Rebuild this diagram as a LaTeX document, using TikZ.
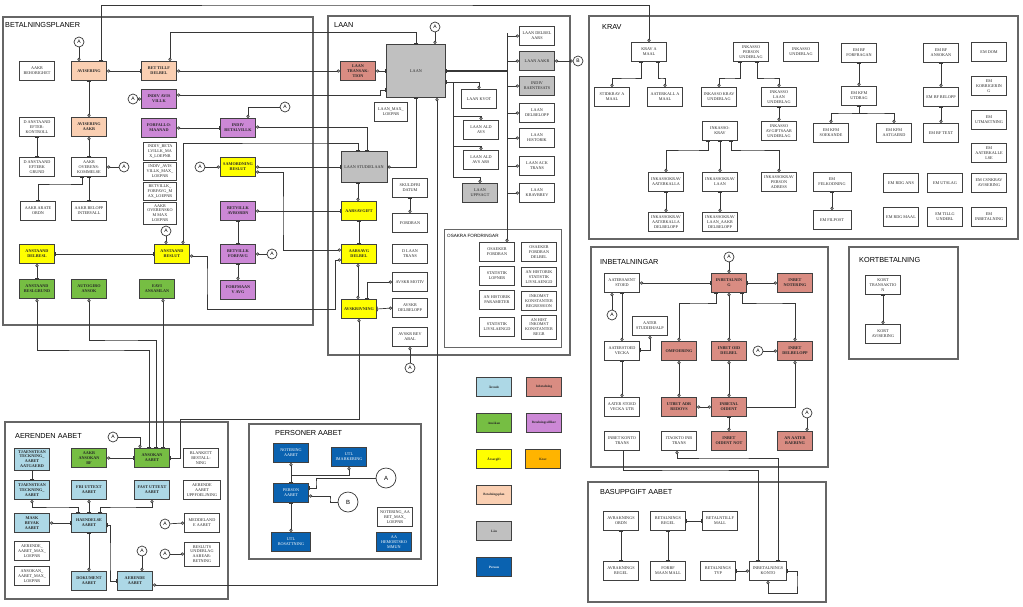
\documentclass[tikz,border=0pt]{standalone}
\usepackage{fontspec}
\setmainfont{Liberation Serif}
\setsansfont{Liberation Sans}
\usetikzlibrary{arrows.meta}
\definecolor{cPlan}{RGB}{250,207,178}
\definecolor{cVillk}{RGB}{204,136,214}
\definecolor{cAvg}{RGB}{255,255,0}
\definecolor{cAns}{RGB}{118,190,67}
\definecolor{cAer}{RGB}{173,216,230}
\definecolor{cInb}{RGB}{217,140,130}
\definecolor{cLaan}{RGB}{192,192,192}
\definecolor{cPers}{RGB}{10,98,176}
\definecolor{cKrav}{RGB}{255,180,0}
\definecolor{cLine}{RGB}{55,55,55}
\newcommand{\efont}{\fontsize{4.2}{4.9}\selectfont}
\tikzset{
  entity/.style={draw=black!75, line width=0.9pt, minimum width=35pt, minimum height=19pt,
    inner sep=0.5pt, align=center, font=\efont, text=black!85},
  planbox/.style={entity, fill=cPlan, font=\efont\bfseries},
  villkbox/.style={entity, fill=cVillk, font=\efont\bfseries},
  avgbox/.style={entity, fill=cAvg, font=\efont\bfseries},
  ansbox/.style={entity, fill=cAns, font=\efont\bfseries},
  aerbox/.style={entity, fill=cAer, font=\efont\bfseries},
  inbbox/.style={entity, fill=cInb, font=\efont\bfseries},
  laanbox/.style={entity, fill=cLaan},
  persbox/.style={entity, fill=cPers, text=white},
  maxbox/.style={entity, minimum width=33pt, minimum height=18pt},
  legend/.style={entity, font=\fontsize{3.3}{4}\selectfont\bfseries},
  frame/.style={draw=black!60, line width=1.1pt},
  frametitle/.style={anchor=west, inner sep=0pt, font=\sffamily\fontsize{7.3}{8}\selectfont},
  subtitle/.style={anchor=west, inner sep=0pt, font=\sffamily\fontsize{4.6}{5}\selectfont},
  rel/.style={draw=cLine, line width=0.7pt},
  refcirc/.style={draw=cLine, circle, line width=0.7pt, fill=white, minimum size=10pt,
    inner sep=0pt, font=\sffamily\fontsize{5}{5}\selectfont},
  bigref/.style={refcirc, minimum size=20pt, font=\sffamily\fontsize{6}{6}\selectfont},
  co/.tip={Circle[open, length=3.2pt, width=3.2pt]},
  br/.tip={Bar[width=4.5pt]}
}
% entity box: [style]{name}{x}{y}{text}
\newcommand{\ent}[5][entity]{\node[#1] (#2) at (#3,#4) {#5};}
% reference circle: {name}{x}{y}{letter}
\newcommand{\aref}[4]{\node[refcirc] (#1) at (#2,#3) {#4};}

\begin{document}
\begin{tikzpicture}[x=1pt, y=-1pt]
  \useasboundingbox (0,0) rectangle (1023,606);

  % frames
  \draw[frame] (3,17) rectangle (313,325);
  \node[frametitle] (tPlan) at (5,25) {BETALNINGSPLANER};
  \draw[frame] (328,16) rectangle (570,355);
  \node[frametitle] (tLaan) at (334,25) {LAAN};
  \draw[frame, line width=0.9pt] (444,229) rectangle (561,347);
  \node[subtitle] (tOsak) at (447,236) {OSAKRA FORDRINGAR};
  \draw[frame] (589,16) rectangle (1018,239);
  \node[frametitle] (tKrav) at (602,27) {KRAV};
  \draw[frame] (849,247) rectangle (958,359);
  \node[frametitle] (tKort) at (859,260) {KORTBETALNING};
  \draw[frame] (591,247) rectangle (828,467);
  \node[frametitle] (tInb) at (600,262) {INBETALNINGAR};
  \draw[frame] (588,482) rectangle (826,602);
  \node[frametitle] (tBas) at (600,492) {BASUPPGIFT AABET};
  \draw[frame] (5,422) rectangle (228,599);
  \node[frametitle] (tAer) at (15,436) {AERENDEN AABET};
  \draw[frame] (249,424) rectangle (421,559);
  \node[frametitle] (tPers) at (275,433) {PERSONER AABET};

  % BETALNINGSPLANER
  \ent{aakrBeh}{37}{71}{AAKR\\BEHORIGHET}
  \ent[planbox]{avis}{89}{71}{AVISERING}
  \ent[planbox]{betTillf}{159}{71}{BET TILLF\\DELBEL}
  \ent[villkbox]{indivAvis}{159}{99}{INDIV AVIS\\VILLK}
  \ent[villkbox]{forfallo}{159}{128}{FORFALLO-\\MAANAD}
  \ent[villkbox]{indivBet}{238}{128}{INDIV\\BETALVILLK}
  \ent{eftKontr}{37}{127}{D ANSTAAND\\EFTER-\\KONTROLL}
  \ent[planbox]{avisAakr}{89}{127}{AVISERING\\AAKR}
  \ent{eftGrund}{37}{167}{D ANSTAAND\\EFTERK\\GRUND}
  \ent{aakrOver}{89}{167}{AAKR\\OVERENS-\\KOMMELSE}
  \ent{aakrArate}{38}{211}{AAKR ARATE\\ORDN}
  \ent{aakrBel}{89}{211}{AAKR BELOPP\\INTERVALL}
  \ent[maxbox]{mxBetv}{160}{151}{INDIV\_BETA\\LVILLK\_MA\\X\_LOEPNR}
  \ent[maxbox]{mxAvis}{160}{171}{INDIV\_AVIS\\VILLK\_MAX\_\\LOEPNR}
  \ent[maxbox]{mxForf}{160}{191}{BETVILLK\_\\FORFAVG\_M\\AX\_LOEPNR}
  \ent[maxbox, minimum height=22pt]{mxOver}{160}{213}{AAKR\\OVERENSKO\\M MAX\\LOEPNR}
  \ent[avgbox]{samord}{238}{167}{SAMORDNING\\BESLUT}
  \ent[villkbox]{betAvb}{238}{211}{BETVILLK\\AVBORDN}
  \ent[villkbox]{betForf}{238}{254}{BETVILLK\\FORFAVG}
  \ent[villkbox]{forfm}{238}{290}{FORFMAAN\\V AVG}
  \ent[avgbox]{anstDel}{37}{254}{ANSTAAND\\DELBESL}
  \ent[avgbox]{anstBesl}{172}{254}{ANSTAAND\\BESLUT}
  \ent[ansbox]{anstGrund}{37}{289}{ANSTAAND\\BESLGRUND}
  \ent[ansbox]{autogiro}{89}{289}{AUTOGIRO\\ANSOK}
  \ent[ansbox]{eavi}{157}{289}{EAVI\\ANSAMLAN}
  \aref{aAvis}{79}{42}{A}
  \aref{aOver}{124}{167}{A}
  \aref{aIndivA}{133}{99}{A}
  \aref{aIndivB}{285}{107}{A}
  \aref{aSam}{200}{167}{A}
  \aref{aAnst}{166}{231}{A}
  \aref{aBetF}{272}{254}{A}

  % LAAN
  \ent[inbbox]{laanTrans}{358}{71}{LAAN\\TRANSAK-\\TION}
  \ent[laanbox, minimum width=59pt, minimum height=53pt]{laan}{416}{71}{LAAN}
  \ent[entity, minimum width=33pt]{laanMax}{391}{112}{LAAN\_MAX\_\\LOEPNR}
  \ent[laanbox, minimum width=46pt, minimum height=31pt]{laanStud}{364}{167}{LAAN STUDIELAAN}
  \ent{laanKvot}{479}{99}{LAAN KVOT}
  \ent{laanAld}{481}{130}{LAAN ALD\\AVS}
  \ent{laanAldArs}{481}{160}{LAAN ALD\\AVS ARS}
  \ent[laanbox]{laanUpps}{480}{193}{LAAN\\UPPSAGT}
  \ent{laanDelbA}{537}{36}{LAAN DELBEL\\AARS}
  \ent[laanbox]{laanAakr}{537}{61}{LAAN AAKR}
  \ent[laanbox]{indivRaent}{537}{86}{INDIV\\RAENTESATS}
  \ent{laanDelb}{537}{113}{LAAN\\DELBELOPP}
  \ent{laanHist}{537}{138}{LAAN\\HISTORIK}
  \ent{laanAck}{537}{166}{LAAN ACK\\TRANS}
  \ent{laanKravb}{537}{193}{LAAN\\KRAVBREV}
  \ent[avgbox]{aarsAvg}{359}{211}{AARSAVGIFT}
  \ent[avgbox]{aarsDel}{359}{254}{AARSAVG\\DELBEL}
  \ent[avgbox]{avskr}{359}{309}{AVSKRIVNING}
  \ent{skuldfri}{410}{188}{SKULDFRI\\DATUM}
  \ent{fordran}{410}{223}{FORDRAN}
  \ent{dLaanTr}{410}{254}{D LAAN\\TRANS}
  \ent{avskMotiv}{410}{282}{AVSKR MOTIV}
  \ent{avskDelb}{410}{308}{AVSKR\\DELBELOPP}
  \ent{avskBev}{410}{337}{AVSKR BEV\\ABAL}
  \aref{aLaan}{435}{27}{A}
  \aref{bLaan}{578}{61}{B}
  \aref{aBev}{410}{368}{A}
  % OSAKRA FORDRINGAR
  \ent{osakFord}{497}{252}{OSAEKER\\FORDRAN}
  \ent{osakDel}{539}{252}{OSAEKER\\FORDRAN\\DELBEL}
  \ent{statLop}{497}{276}{STATISTIK\\LOPNER}
  \ent{anHistStat}{539}{277}{AN HISTORIK\\STATISTIK\\LIVSLAENGD}
  \ent{anHistPar}{497}{300}{AN HISTORIK\\PARAMETER}
  \ent{inkKonst}{539}{301}{INKOMST\\KONSTANTER\\REGRESSION}
  \ent{statLiv}{497}{327}{STATISTIK\\LIVSLAENGD}
  \ent[entity, minimum height=24pt]{anHistInk}{539}{327}{AN HIST\\INKOMST\\KONSTANTER\\REGR}

  % KRAV
  \ent{kravMaal}{649}{52}{KRAV A\\MAAL}
  \ent{stidkrav}{612}{97}{STIDKRAV A\\MAAL}
  \ent{aaterMaal}{665}{97}{AATERKALL A\\MAAL}
  \ent{inkPers}{751}{52}{INKASSO\\PERSON\\UNDERLAG}
  \ent{inkUnd}{801}{52}{INKASSO\\UNDERLAG}
  \ent{inkKravU}{719}{97}{INKASSO KRAV\\UNDERLAG}
  \ent{inkLaanU}{779}{97}{INKASSO\\LAAN\\UNDERLAG}
  \ent{inkAvgU}{779}{131}{INKASSO\\AVGIFTSAAR\\UNDERLAG}
  \ent{inkKrav}{720}{131}{INKASSO-\\KRAV}
  \ent{ikAater}{666}{182}{INKASSOKRAV\\AATERKALLA}
  \ent{ikLaan}{720}{182}{INKASSOKRAV\\LAAN}
  \ent{ikPers}{779}{182}{INKASSOKRAV\\PERSON\\ADRESS}
  \ent{ikAaterDel}{666}{222}{INKASSOKRAV\\AATERKALLA\\DELBELOPP}
  \ent{ikLaanDel}{720}{222}{INKASSOKRAV\\LAAN\_AAKR\\DELBELOPP}
  \ent{emBfForf}{859}{53}{EM BF\\FORFRAGAN}
  \ent{emKfmUtd}{859}{96}{EM KFM\\UTDRAG}
  \ent{emKfmSok}{831}{133}{EM KFM\\SOEKANDE}
  \ent{emKfmAatg}{894}{133}{EM KFM\\AATGAERD}
  \ent{emBfAns}{941}{53}{EM BF\\ANSOKAN}
  \ent{emBfBel}{941}{97}{EM BF BELOPP}
  \ent{emBfText}{941}{133}{EM BF TEXT}
  \ent{emDom}{989}{52}{EM DOM}
  \ent{emKorr}{989}{86}{EM\\KORRIGERIN\\G}
  \ent{emUtm}{989}{120}{EM\\UTMAETNING}
  \ent{emAater}{989}{153}{EM\\AATERKALLE\\LSE}
  \ent[entity, minimum width=38pt]{emFelk}{832}{182}{EM\\FELKODNING}
  \ent[entity, minimum width=38pt]{emFilpost}{832}{220}{EM FILPOST}
  \ent{emRdgAns}{901}{183}{EM RDG ANS}
  \ent{emUtslag}{945}{183}{EM UTSLAG}
  \ent{emCsn}{989}{183}{EM CSNKRAV\\AVISERING}
  \ent{emRdgMaal}{901}{217}{EM RDG MAAL}
  \ent{emTillg}{945}{217}{EM TILLG\\UNDERL}
  \ent{emInb}{989}{217}{EM\\INBETALNING}

  % KORTBETALNING
  \ent{kortTrans}{883}{285}{KORT\\TRANSAKTIO\\N}
  \ent{kortAvis}{883}{334}{KORT\\AVISERING}

  % INBETALNINGAR
  \ent{aaterSaent}{622}{283}{AATERSAENT\\STOED}
  \ent[inbbox]{inbet}{729}{283}{INBETALNIN\\G}
  \ent[inbbox]{inbNot}{795}{283}{INBET\\NOTERING}
  \ent{studHj}{650}{326}{AATER\\STUDIEHJALP}
  \ent{aaterVecka}{622}{351}{AATERSTOED\\VECKA}
  \ent{aaterUtb}{622}{407}{AATER STOED\\VECKA UTB}
  \ent{inbKtoTr}{622}{441}{INBET KONTO\\TRANS}
  \ent[inbbox]{omfoer}{679}{351}{OMFOERING}
  \ent[inbbox]{inbOid}{729}{351}{INBET OID\\DELBEL}
  \ent[inbbox]{inbDelb}{795}{351}{INBET\\DELBELOPP}
  \ent[inbbox]{utbAdr}{679}{407}{UTBET ADR\\REDOVS}
  \ent[inbbox]{inbOident}{729}{407}{INBETAL\\OIDENT}
  \ent[inbbox]{inbOidNot}{729}{441}{INBET\\OIDENT NOT}
  \ent[inbbox]{anAater}{795}{441}{AN AATER\\BAERING}
  \ent{itaokto}{679}{441}{ITAOKTO INB\\TRANS}
  \aref{aInb}{729}{257}{A}
  \aref{aAaterS}{612}{315}{A}
  \aref{aInbD}{758}{351}{A}
  \aref{aAnAater}{807}{413}{A}

  % BASUPPGIFT AABET
  \ent{avrOrdn}{621}{521}{AVRAKNINGS\\ORDN}
  \ent{avrRegel}{621}{571}{AVRAKNINGS\\REGEL}
  \ent{betRegel}{668}{521}{BETALNINGS\\REGEL}
  \ent{betTillfMall}{720}{521}{BETALNTILLF\\MALL}
  \ent{forbf}{668}{571}{FORBF\\MAAN MALL}
  \ent{betTyp}{718}{571}{BETALNINGS\\TYP}
  \ent[entity, minimum width=37pt]{inbKtoBas}{768}{571}{INBETALNINGS\\KONTO}

  % AERENDEN AABET
  \ent[aerbox, minimum height=22pt]{tjaAatg}{32}{459}{TJAENSTEAN\\TECKNING\_\\AABET\\AATGAERD}
  \ent[ansbox]{aakrAnsBf}{89}{458}{AAKR\\ANSOKAN\\BF}
  \ent[ansbox]{ansAabet}{152}{458}{ANSOKAN\\AABET}
  \ent{blankett}{201}{458}{BLANKETT\\BESTALL-\\NING}
  \ent[aerbox]{tjaAabet}{32}{490}{TJAENSTEAN\\TECKNING\_\\AABET}
  \ent[aerbox]{friUtt}{89}{490}{FRI UTTEXT\\AABET}
  \ent[aerbox]{fastUtt}{152}{490}{FAST UTTEXT\\AABET}
  \ent[entity, minimum width=37pt]{aerUppf}{202}{490}{AERENDE\\AABET\\UPPFOELJNING}
  \ent[aerbox]{mask}{32}{523}{MASK\\BEVAK\\AABET}
  \ent[aerbox]{haend}{89}{523}{HAENDELSE\\AABET}
  \ent{medd}{202}{523}{MEDDELAND\\E AABET}
  \ent[entity, minimum height=24pt]{beslUnd}{202}{554}{BESLUTS\\UNDERLAG\\AABEAR-\\BETNING}
  \ent{aerMax}{32}{551}{AERENDE\_\\AABET\_MAX\_\\LOEPNR}
  \ent{ansMax}{32}{576}{ANSOKAN\_\\AABET\_MAX\_\\LOEPNR}
  \ent[aerbox]{dokument}{89}{581}{DOKUMENT\\AABET}
  \ent[aerbox]{aerAabet}{135}{581}{AERENDE\\AABET}
  \aref{aAns}{113}{437}{A}
  \aref{aAer}{142}{551}{A}
  \aref{aMedd}{165}{524}{A}
  \aref{aBesl}{165}{554}{A}

  % PERSONER AABET
  \ent[persbox]{notering}{291}{453}{NOTERING\\AABET}
  \ent[persbox]{utlImark}{349}{457}{UTL\\IMARKERING}
  \ent[persbox]{person}{291}{493}{PERSON\\AABET}
  \ent[persbox, minimum width=39pt]{utlBos}{291}{542}{UTL\\BOSATTNING}
  \ent[persbox]{aaHem}{394}{542}{AA\\HEMORTSKO\\MMUN}
  \ent{notMax}{395}{517}{NOTERING\_AA\\BET\_MAX\_\\LOEPNR}
  \node[bigref] (aPers) at (386,478) {A};
  \node[bigref] (bPers) at (348,502) {B};
  \coordinate (jPers) at (291,475);

  % legend
  \ent[legend, fill=cAer]{lgAer}{494}{387}{Ärende}
  \ent[legend, fill=cAns]{lgAns}{494}{423}{Ansökan}
  \ent[legend, fill=cAvg]{lgAvg}{494}{459}{Årsavgift}
  \ent[legend, fill=cPlan]{lgPlan}{494}{495}{Betalningsplan}
  \ent[legend, fill=cLaan]{lgLaan}{494}{531}{Lån}
  \ent[legend, fill=cPers, text=white]{lgPers}{494}{567}{Person}
  \ent[legend, fill=cInb]{lgInb}{544}{387}{Inbetalning}
  \ent[legend, fill=cVillk]{lgVillk}{544}{423}{Betalningsvillkor}
  \ent[legend, fill=cKrav]{lgKrav}{543}{459}{Krav}

  % connectors: betalningsplaner
  \draw[rel,-co] (aAvis) -- (aAvis |- avis.north);
  \draw[rel,co-br] (kravMaal.north) |- (300,5) -| ([xshift=12]avis.north);
  \draw[rel,co-br] (avis.east) -- (betTillf.west);
  \draw[rel,co-br] ([xshift=11]betTillf.north) -- ++(0,-29) -| (laan.north);
  \draw[rel,co-co] (betTillf.east) -- (laanTrans.west);
  \draw[rel,co-br] (laanTrans.east) -- (laan.west);
  \draw[rel,-co] (aIndivA) -- (indivAvis.west);
  \draw[rel,co-br] ([yshift=4]indivAvis.east) -- (380,95) |- ([yshift=-19]laan.west);
  \draw[rel,co-br] (forfallo.east) -- (indivBet.west);
  \draw[rel,co-] ([xshift=10]indivBet.north) |- (aIndivB);
  \draw[rel,co-br] ([yshift=1]indivBet.east) -| ([xshift=3]laanStud.north);
  \draw[rel,co-br] ([xshift=11]anstBesl.north) |- (300,143) -| ([xshift=-6]laanStud.north);
  \draw[rel,-co] (aSam) -- (samord.west);
  \draw[rel,co-br] (samord.east) -- (laanStud.west);
  \draw[rel,co-co] ([yshift=-5]samord.east) -| (283,220) |- ([yshift=4]aarsDel.west);
  \draw[rel,co-br] (laanStud.east) -| (laan.south);
  \draw[rel,co-br] (betAvb.east) -- (aarsAvg.west);
  \draw[rel,br-br] (betAvb.south) -- (betForf.north);
  \draw[rel,br-co] (betForf.south) -- (forfm.north);
  \draw[rel,co-] (betForf.east) -- (aBetF);
  \draw[rel,-co] (aAnst) -- (aAnst |- anstBesl.north);
  \draw[rel,br-br] (anstDel.east) -- (anstBesl.west);
  \draw[rel,co-co] ([yshift=-2]anstBesl.east) -| (207,280) |- (335,309) |- ([yshift=-6]aarsDel.west);
  \draw[rel,co-br] (anstDel.south) -- (anstGrund.north);
  \draw[rel,br-co] (avis.south) -- (avisAakr.north);
  \draw[rel,br-br] (eftKontr.south) -- (eftGrund.north);
  \draw[rel,co-br] (avisAakr.south) -- (aakrOver.north);
  \draw[rel,co-] (aakrOver.east) -- (aOver);
  \draw[rel,br-br] ([xshift=-7]aakrOver.south) |- (60,184) -| (aakrArate.north);
  \draw[rel,br-br] (aakrOver.south) -- (aakrBel.north);
  \draw[rel,co-br] (anstGrund.south) |- (100,350) -| ([xshift=-3]ansAabet.north);
  \draw[rel,co-br] (autogiro.south) |- (120,340) -| ([xshift=4]ansAabet.north);
  \draw[rel,co-br] ([xshift=6]eavi.south) -- ([xshift=11]ansAabet.north);
  \draw[rel,-co] (aAns.east) -| ([xshift=-12]ansAabet.north);
  \draw[rel,co-br] (avskr.south) |- (180,419) |- (ansAabet.east);

  % connectors: laan
  \draw[rel,-co] (aLaan) -- (aLaan |- laan.north);
  \draw[rel,br-co] ([yshift=-11]laan.east) -| (laanKvot.north);
  \coordinate (busL) at (453,82);
  \draw[rel,-co] (busL) |- ([yshift=4]laanAld.north) -- (laanAld.north);
  \draw[rel,-co] (busL) |- ([yshift=4]laanAldArs.north) -- (laanAldArs.north);
  \draw[rel,-co] (busL) |- ([yshift=6]laanUpps.north) -- (laanUpps.north);
  \coordinate (busR) at (507,33);
  \draw[rel,br-,line width=1.1pt] (laan.east) -- (laan.east -| busR);
  \draw[rel,-co] (busR) -- ([xshift=10]osakFord.north);
  \foreach \b in {laanDelbA,laanAakr,indivRaent,laanDelb,laanHist,laanAck,laanKravb}
    \draw[rel,-co] (busR |- \b.west) -- (\b.west);
  \draw[rel,co-co] (laanAakr.east) -- (bLaan);
  \draw[rel,br-co] ([xshift=-6]laanStud.south) -- ([xshift=-1]aarsAvg.north);
  \draw[rel,br-br] (aarsAvg.south) -- (aarsDel.north);
  \draw[rel,co-co] ([xshift=-1]aarsDel.south) -- ([xshift=-1]avskr.north);
  \draw[rel,co-br] (avskMotiv.west) -| ([xshift=8]avskr.north);
  \draw[rel,br-co] (avskr.east) -- (avskDelb.west);
  \draw[rel,co-] (avskBev.south) -- (aBev);
  \draw[rel,br-co] (skuldfri.south) -- (fordran.north);
  \draw[rel,co-co] ([xshift=21]laan.south) |- ([yshift=-4]aerAabet.east);

  % connectors: krav
  \draw[rel,br-co] ([xshift=-8]kravMaal.south) |- (630,78) -| (stidkrav.north);
  \draw[rel,br-co] ([xshift=9]kravMaal.south) |- (662,78) -| (aaterMaal.north);
  \draw[rel,br-co] ([xshift=-11]inkPers.south) |- (730,78) -| (inkKravU.north);
  \draw[rel,br-co] ([xshift=6]inkPers.south) |- (770,78) -| (inkLaanU.north);
  \draw[rel,br-co] (inkLaanU.south) -- (inkAvgU.north);
  \draw[rel,br-co] ([xshift=-12]inkKrav.south) |- (690,150) -| (ikAater.north);
  \draw[rel,br-co] (inkKrav.south) -- (ikLaan.north);
  \draw[rel,br-co] ([xshift=11]inkKrav.south) |- (750,150) -| (ikPers.north);
  \draw[rel,br-co] (ikAater.south) -- (ikAaterDel.north);
  \draw[rel,br-co] (ikLaan.south) -- (ikLaanDel.north);
  \draw[rel,br-co] (emBfForf.south) -- (emKfmUtd.north);
  \draw[rel,br-co] (emKfmUtd.south) |- (845,113) -| (emKfmSok.north);
  \draw[rel,br-co] (emKfmUtd.south) |- (875,113) -| (emKfmAatg.north);
  \draw[rel,br-co] (emBfAns.south) -- (emBfBel.north);
  \draw[rel,br-co] (emBfBel.south) -- (emBfText.north);
  \draw[rel,br-co] (emFelk.south) -- (emFilpost.north);
  \draw[rel,br-co] (kortTrans.south) -- (kortAvis.north);

  % connectors: inbetalningar
  \draw[rel,-co] (aInb) -- (aInb |- inbet.north);
  \draw[rel,co-br] (aaterSaent.east) -- (inbet.west);
  \draw[rel,co-br] (inbNot.west) -- (inbet.east);
  \draw[rel,co-] ([xshift=-10]aaterSaent.south) -- (aAaterS);
  \draw[rel,br-co] (aaterSaent.south) -- (aaterVecka.north);
  \draw[rel,br-co] ([yshift=1]aaterVecka.east) -| (studHj.south);
  \draw[rel,br-co] (aaterVecka.south) -- (aaterUtb.north);
  \draw[rel,br-co] ([xshift=-13]inbet.south) |- (700,303) -| (omfoer.north);
  \draw[rel,co-co] (inbet.south) -- (inbOid.north);
  \draw[rel,br-co] ([xshift=13]inbet.south) |- (770,303) -| (inbDelb.north);
  \draw[rel,-co] (aInbD) -- (inbDelb.west);
  \draw[rel,co-co] (omfoer.south) -- (utbAdr.north);
  \draw[rel,co-co] (inbOid.south) -- (inbOident.north);
  \draw[rel,co-co] (utbAdr.east) -- (inbOident.west);
  \draw[rel,co-] (inbDelb.south) |- (inbOident.east);
  \draw[rel,br-co] (inbOident.south) -- (inbOidNot.north);
  \draw[rel,-co] (aAnAater) -- (aAnAater |- anAater.north);
  \draw[rel,-br] ([xshift=1]inbKtoTr.south) |- (700,470) -| ([xshift=-10]inbKtoBas.north);
  \draw[rel,co-br] ([xshift=-2]itaokto.south) |- (720,458) -| ([xshift=10]inbKtoBas.north);

  % connectors: basuppgift
  \draw[rel,br-br] (avrOrdn.south) -- (avrRegel.north);
  \draw[rel,br-br] (betRegel.east) -- (betTillfMall.west);
  \draw[rel,br-br] (betRegel.south) -- (forbf.north);
  \draw[rel,co-br] (inbKtoBas.west) -- (betTyp.east);
  \draw[rel,co-br] (inbKtoBas.south) -- ++(0,12) -| (797,580) |- (inbKtoBas.east);

  % connectors: aerenden
  \draw[rel,co-br] (aakrAnsBf.east) -- (ansAabet.west);
  \draw[rel,br-br] (tjaAatg.south) -- (tjaAabet.north);
  \draw[rel,co-br] (tjaAabet.south) |- (60,507) -| ([xshift=-11]haend.north);
  \draw[rel,co-br] (friUtt.south) -- (haend.north);
  \draw[rel,co-br] (fastUtt.south) |- (120,507) -| ([xshift=11]haend.north);
  \draw[rel,co-br] (mask.east) -- (haend.west);
  \draw[rel,br-co] (haend.south) -- (dokument.north);
  \draw[rel,br-br] ([yshift=-2]haend.east) -| (110,560) |- (aerAabet.west);
  \draw[rel,-co] (aAer) -- (aAer |- aerAabet.north);
  \draw[rel,-co] (aMedd) -- (medd.west);
  \draw[rel,-co] (aBesl) -- (beslUnd.west);

  % connectors: personer
  \draw[rel,co-br] (notering.south) -- (person.north);
  \draw[rel,co-] (utlImark.south) |- (jPers);
  \draw[rel,-br] (aPers.west) -| (316,483) |- ([yshift=5]person.east);
  \draw[rel,co-] ([yshift=-3]person.east) -| (330,500) |- (bPers.west);
  \draw[rel,br-co] (person.south) -- (utlBos.north);
\end{tikzpicture}
\end{document}
